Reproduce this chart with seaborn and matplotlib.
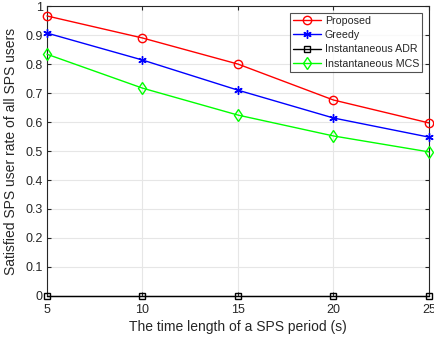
import pandas as pd
import matplotlib.pyplot as plt
import seaborn as sns

# dados
periodos = [5, 10, 15, 20, 25]
proposed = [0.966, 0.890, 0.800, 0.676, 0.597]
greedy = [0.907, 0.814, 0.710, 0.614, 0.548]
adr = [0, 0, 0, 0, 0]
mcs = [0.834, 0.717, 0.624, 0.552, 0.497]

series = ['Proposed', 'Greedy', 'Instantaneous ADR', 'Instantaneous MCS']
valores = [proposed, greedy, adr, mcs]
cores = ['#ff0000', '#0000ff', '#000000', '#00ff00']
marcadores = ['o', (6, 2, 0), 's', 'd']
tamanhos = [6, 6, 4.5, 6]

df = pd.DataFrame({
    'periodo': periodos * len(series),
    'taxa': sum(valores, []),
    'metodo': [s for s in series for _ in periodos],
})

sns.set_style('whitegrid')
plt.rcParams['font.family'] = ['Liberation Sans', 'DejaVu Sans']

fig = plt.figure(figsize=(4.35, 3.39), dpi=100)
ax = fig.add_axes([0.108, 0.127, 0.878, 0.855])

for s, c, m, t in zip(series, cores, marcadores, tamanhos):
    sns.lineplot(data=df[df.metodo == s], x='periodo', y='taxa', color=c,
                 marker=m, markersize=t,
                 markerfacecolor='none', markeredgecolor=c, markeredgewidth=1,
                 linewidth=1, label=s, ax=ax, clip_on=False, zorder=3)

ax.set_xlim(5, 25)
ax.set_ylim(0, 1)
ax.set_xticks(periodos)
ax.set_yticks([i / 10 for i in range(11)])
ax.set_yticklabels(['0'] + ['%.1f' % (i / 10) for i in range(1, 10)] + ['1'])
ax.grid(True, color='#e6e6e6', linewidth=0.8)
for sp in ax.spines.values():
    sp.set_color('#262626')
    sp.set_linewidth(0.8)
ax.tick_params(direction='in', length=3, labelsize=9, colors='#262626',
               top=True, right=True, bottom=True, left=True)
ax.tick_params(axis='x', pad=6)
ax.tick_params(axis='y', pad=3)
ax.set_xlabel('The time length of a SPS period (s)', fontsize=10, color='#262626', labelpad=3)
ax.set_ylabel('Satisfied SPS user rate of all SPS users', fontsize=10, color='#262626', labelpad=5)

leg = ax.legend(loc='upper right', fontsize=7.7, frameon=True, fancybox=False,
                borderaxespad=0.6, handlelength=2.6, labelspacing=0.4,
                borderpad=0.3, handletextpad=0.4)
leg.get_frame().set_edgecolor('#262626')
leg.get_frame().set_linewidth(0.8)

fig.savefig('out.png', dpi=100)
